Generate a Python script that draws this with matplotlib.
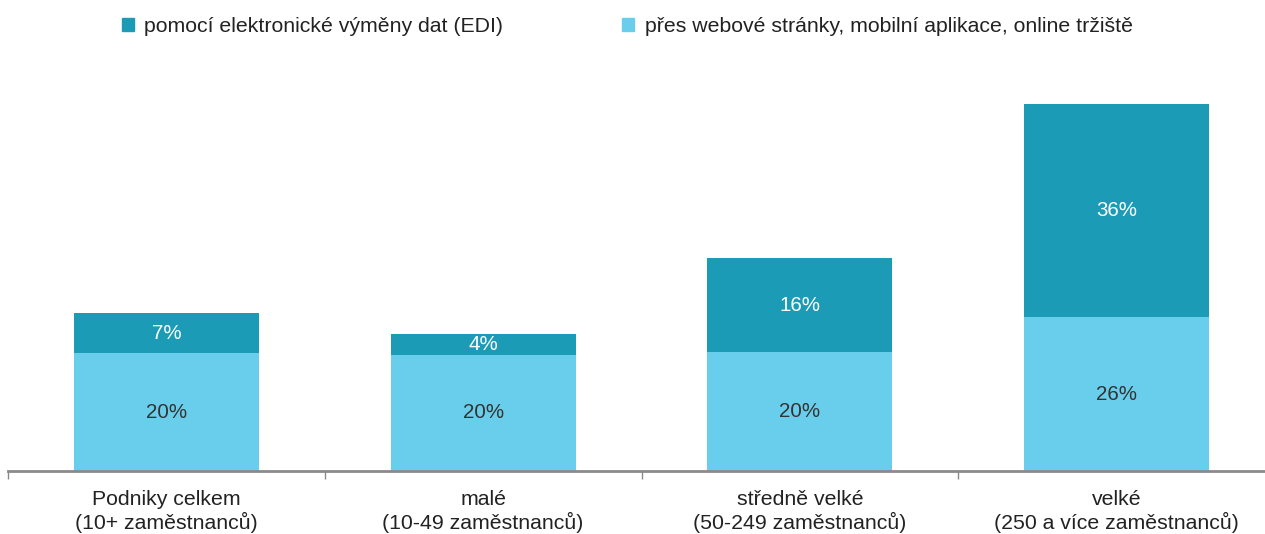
import matplotlib
matplotlib.use("Agg")
import matplotlib.pyplot as plt
from matplotlib.patches import Patch

categories = ["Podniky celkem\n(10+ zaměstnanců)", "malé\n(10-49 zaměstnanců)",
              "středně velké\n(50-249 zaměstnanců)", "velké\n(250 a více zaměstnanců)"]
web = [20.0, 19.7, 20.2, 26.1]
edi = [6.8, 3.6, 15.9, 36.1]
web_labels = ["20%", "20%", "20%", "26%"]
edi_labels = ["7%", "4%", "16%", "36%"]
series_names = ["pomocí elektronické výměny dat (EDI)",
                "přes webové stránky, mobilní aplikace, online tržiště"]

c_edi = "#1B9BB5"
c_web = "#69CEEB"
fs = 15.3

plt.rcParams['font.family'] = ['Liberation Sans', 'DejaVu Sans']
fig = plt.figure(figsize=(12.65, 5.34), dpi=100)
ax = fig.add_axes([8/1265, 63/534, 1267/1265, 411/534])

x = list(range(len(categories)))
w = 0.584
ax.bar(x, web, w, color=c_web, edgecolor="none")
ax.bar(x, edi, w, bottom=web, color=c_edi, edgecolor="none")
for i in x:
    ax.text(i, web[i] / 2, web_labels[i], ha="center", va="center", fontsize=14.8, color="#333333")
    ax.text(i, web[i] + edi[i] / 2, edi_labels[i], ha="center", va="center", fontsize=14.8, color="white")

ax.set_xlim(-0.5, 3.5)
ax.set_ylim(0, 69.7)
for s in ["top", "right", "left"]:
    ax.spines[s].set_visible(False)
ax.spines["bottom"].set_color("#8a8a8a")
ax.spines["bottom"].set_linewidth(2)
ax.set_yticks([])
ax.set_xticks([-0.5, 0.5, 1.5, 2.5, 3.5])
ax.set_xticklabels([])
ax.tick_params(axis="x", length=6, width=1, color="#8a8a8a", direction="out")
ax.set_xticks(x, minor=True)
ax.set_xticklabels(categories, minor=True, fontsize=fs, color="#222222", linespacing=1.15)
ax.tick_params(axis="x", which="minor", length=0, pad=14)

handles = [Patch(color=c_edi), Patch(color=c_web)]
fig.legend(handles, series_names, loc="upper left", bbox_to_anchor=(103/1265, 1.0 + 2/534), ncol=2,
           frameon=False, fontsize=fs, handlelength=0.55, handleheight=0.55,
           handletextpad=0.5, columnspacing=5.6, labelcolor="#222222")

fig.savefig("out.png", dpi=100)
